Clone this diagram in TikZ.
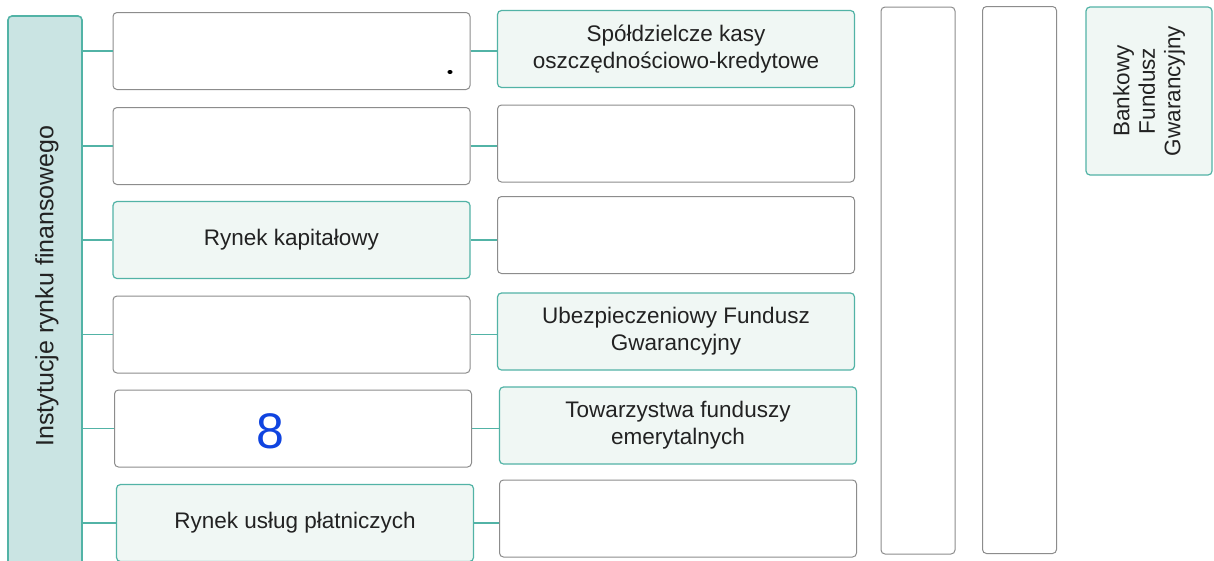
\documentclass[tikz,border=0pt]{standalone}
\usepackage{fontspec}
\setmainfont{Liberation Sans}
\definecolor{tealc}{HTML}{52B3A6}
\definecolor{boxgray}{HTML}{8C8C8C}
\definecolor{palefill}{HTML}{F0F7F4}
\definecolor{leftfill}{HTML}{CAE4E3}
\definecolor{textc}{HTML}{222222}
\definecolor{penblue}{HTML}{1044E0}
\begin{document}
\begin{tikzpicture}[x=1pt,y=-1pt,
  box/.style={draw=boxgray, line width=1pt, rounded corners=4pt, fill=white,
    minimum width=357pt, minimum height=77pt, inner sep=0pt, align=center,
    font=\fontsize{22.5}{27}\selectfont, text=textc},
  tbox/.style={box, draw=tealc, line width=1.2pt, fill=palefill},
  tall/.style={draw=boxgray, line width=1pt, rounded corners=4pt, fill=white,
    minimum width=74pt, minimum height=547pt, inner sep=0pt},
  link/.style={draw=tealc, line width=1.5pt}]
\useasboundingbox (0,0) rectangle (1214,560);
\clip (0,0) rectangle (1214,560);
\fill[white] (0,0) rectangle (1214,560);

% left main box
\node[draw=tealc, line width=1.6pt, rounded corners=4pt, fill=leftfill,
  minimum width=74pt, minimum height=559pt, inner sep=0pt] (L) at (45,295.5) {};
\node[rotate=90, font=\fontsize{25}{29}\selectfont, text=textc] (Lt) at (47,286) {Instytucje rynku finansowego};

% column 1
\node[box]  (a1) at (291.5,51) {};
\node[box]  (a2) at (291.5,146) {};
\node[tbox] (a3) at (291.5,240) {Rynek kapitałowy};
\node[box]  (a4) at (291.5,334.5) {};
\node[box]  (a5) at (293,428.5) {};
\node[tbox] (a6) at (295,523) {Rynek usług płatniczych};

% column 2
\node[tbox] (b1) at (676,49) {Spółdzielcze kasy\\oszczędnościowo-kredytowe};
\node[box]  (b2) at (676,143.5) {};
\node[box]  (b3) at (676,235) {};
\node[tbox] (b4) at (676,331.5) {Ubezpieczeniowy Fundusz\\Gwarancyjny};
\node[tbox] (b5) at (678,425.5) {Towarzystwa funduszy\\emerytalnych};
\node[box]  (b6) at (678,518.5) {};

% tall boxes
\node[tall] (t1) at (918,280.5) {};
\node[tall] (t2) at (1019.5,280) {};

% Bankowy Fundusz Gwarancyjny
\node[tbox, rotate=90, minimum width=168pt, minimum height=126pt,
  font=\fontsize{22.5}{25.5}\selectfont] (bfg) at (1149,91)
  {Bankowy\\Fundusz\\Gwarancyjny};

% connectors
\foreach \r in {1,...,6}{
  \draw[link] (L.east |- a\r.west) -- (a\r.west);
}
\draw[link] (a1.east) -- (a1.east -| b1.west);
\draw[link] (a2.east) -- (a2.east -| b2.west);
\draw[link] (a3.east) -- (a3.east -| b3.west);
\draw[link] (a4.east) -- (a4.east -| b4.west);
\draw[link] (a5.east) -- (a5.east -| b5.west);
\draw[link] (a6.east) -- (a6.east -| b6.west);

% handwritten marks
\node[text=penblue, font=\fontsize{50}{54}\selectfont] (eight) at (270,431) {8};
\fill[black] (450,72) ellipse (2.6pt and 2pt);
\end{tikzpicture}
\end{document}
